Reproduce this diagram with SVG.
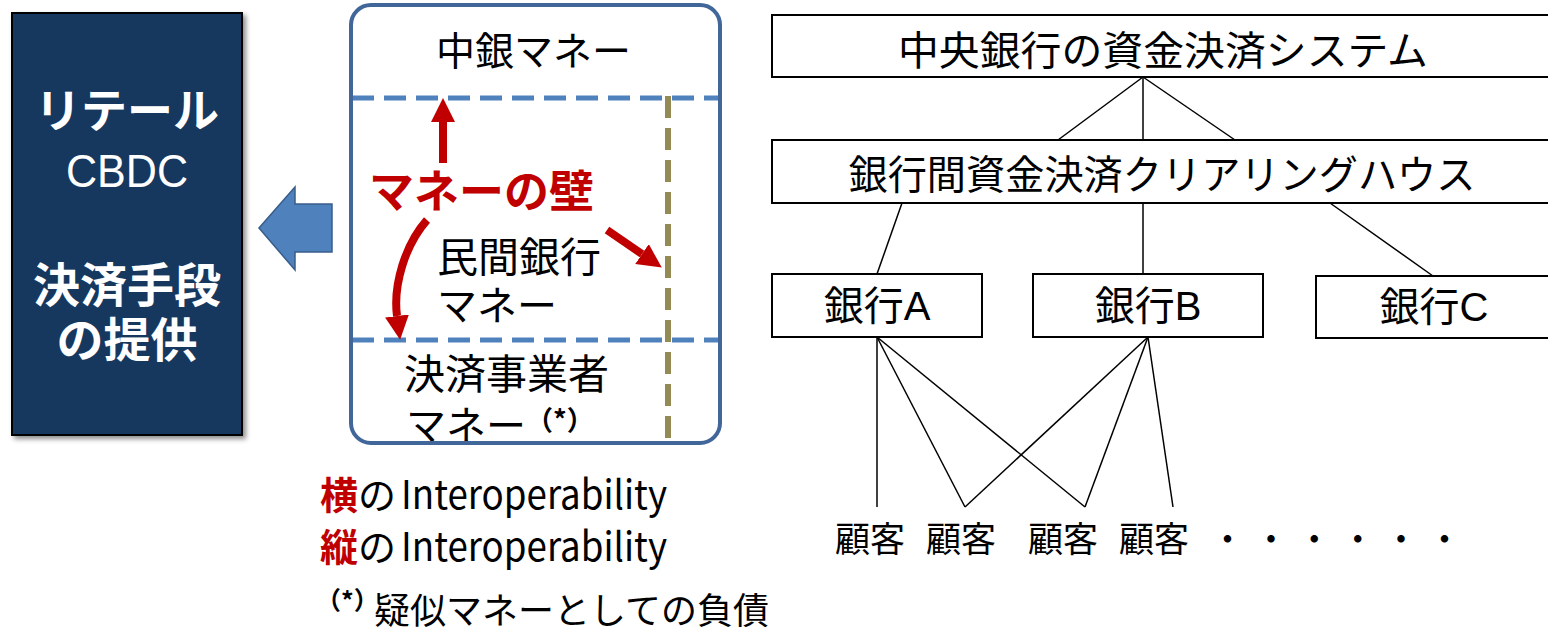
<svg xmlns="http://www.w3.org/2000/svg" width="1548" height="631" viewBox="0 0 1548 631">
<style>
.jp{font-family:"Noto Sans CJK JP","Noto Sans",sans-serif;}
.lat{font-family:"Liberation Sans","Noto Sans CJK JP",sans-serif;}
.box{fill:#fff;stroke:#000;stroke-width:2;}
.conn{stroke:#000;stroke-width:1.5;fill:none;}
.red{stroke:#C00000;stroke-width:8;fill:none;}
.bdash{stroke:#4F81BD;stroke-width:5;stroke-dasharray:22 10;fill:none;}
.odash{stroke:#948A54;stroke-width:6;stroke-dasharray:22 10;fill:none;}
.w{fill:#fff;font-weight:bold;}
</style>
<defs>
<filter id="sh" x="-10%" y="-10%" width="130%" height="130%">
<feDropShadow dx="3" dy="3" stdDeviation="2.5" flood-color="#000" flood-opacity="0.45"/>
</filter>
<marker id="rh" viewBox="0 0 10 10" refX="0" refY="5" markerWidth="24" markerHeight="24" markerUnits="userSpaceOnUse" orient="auto">
<path d="M0,0 L10,5 L0,10 z" fill="#C00000"/>
</marker>
</defs>

<g id="retail-cbdc">
<rect x="12" y="13" width="230" height="422" fill="#17375E" stroke="#000" stroke-width="2" filter="url(#sh)"/>
<text class="jp w" x="127" y="127" font-size="46" text-anchor="middle">リテール</text>
<text class="lat" x="127" y="187" font-size="47" fill="#fff" text-anchor="middle" textLength="122" lengthAdjust="spacingAndGlyphs">CBDC</text>
<text class="jp w" x="127" y="302" font-size="47" text-anchor="middle">決済手段</text>
<text class="jp w" x="127" y="357" font-size="47" text-anchor="middle">の提供</text>
</g>

<g id="blue-arrow">
<polygon points="259,228 295,187 295,204 332,204 332,252 295,252 295,270" fill="#4F81BD" stroke="#385D8A" stroke-width="1.5"/>
</g>

<g id="money-box">
<rect x="351" y="5" width="369" height="438" rx="20" fill="#fff"/>
<text class="jp" x="436" y="65" font-size="39">中銀マネー</text>
<text class="jp" x="437" y="272" font-size="41">民間銀行</text>
<text class="jp" x="437" y="320" font-size="40">マネー</text>
<text class="jp" x="404" y="389" font-size="41">決済事業者</text>
<text class="jp" x="406" y="440" font-size="40">マネー<tspan font-size="27" font-weight="bold" dy="-10">（*）</tspan></text>
<line class="bdash" x1="352" y1="98" x2="720" y2="98"/>
<line class="bdash" x1="352" y1="340" x2="720" y2="340"/>
<line class="odash" x1="668" y1="96" x2="668" y2="441"/>
<text class="jp" x="369" y="208" font-size="45" font-weight="bold" fill="#C00000">マネーの壁</text>
<path class="red" d="M443 163 L443 122" marker-end="url(#rh)"/>
<path class="red" d="M427 220 C405 245 393 285 397 316" marker-end="url(#rh)"/>
<path class="red" d="M607 230 L642 254" marker-end="url(#rh)"/>
<rect x="351" y="5" width="369" height="438" rx="20" fill="none" stroke="#41669A" stroke-width="4"/>
</g>

<g id="notes">
<text class="jp" x="320" y="509" font-size="38"><tspan fill="#C00000" font-weight="bold">横</tspan>の</text>
<text class="jp" x="401" y="509" font-size="40" textLength="266" lengthAdjust="spacingAndGlyphs">Interoperability</text>
<text class="jp" x="320" y="561" font-size="38"><tspan fill="#C00000" font-weight="bold">縦</tspan>の</text>
<text class="jp" x="401" y="561" font-size="40" textLength="266" lengthAdjust="spacingAndGlyphs">Interoperability</text>
<text class="jp" x="316" y="610" font-size="25" font-weight="bold">（*）</text>
<text class="jp" x="374" y="624" font-size="36">疑似マネーとしての負債</text>
</g>

<g id="connectors">
<line class="conn" x1="1143" y1="77" x2="1058" y2="140"/>
<line class="conn" x1="1143" y1="77" x2="1143" y2="140"/>
<line class="conn" x1="1143" y1="77" x2="1235" y2="140"/>
<line class="conn" x1="902" y1="203" x2="877" y2="274"/>
<line class="conn" x1="1143" y1="203" x2="1143" y2="274"/>
<line class="conn" x1="1330" y1="203" x2="1433" y2="276"/>
<line class="conn" x1="877" y1="337" x2="877" y2="507"/>
<line class="conn" x1="877" y1="337" x2="965" y2="507"/>
<line class="conn" x1="877" y1="337" x2="1085" y2="507"/>
<line class="conn" x1="1148" y1="337" x2="965" y2="507"/>
<line class="conn" x1="1148" y1="337" x2="1085" y2="507"/>
<line class="conn" x1="1148" y1="337" x2="1173" y2="507"/>
</g>

<g id="central-bank">
<rect class="box" x="772" y="15" width="790" height="62"/>
<text class="jp" x="1163" y="65" font-size="40" text-anchor="middle" textLength="530" lengthAdjust="spacingAndGlyphs">中央銀行の資金決済システム</text>
</g>
<g id="clearing-house">
<rect class="box" x="772" y="140" width="790" height="63"/>
<text class="jp" x="1162" y="189" font-size="40" text-anchor="middle" textLength="627" lengthAdjust="spacingAndGlyphs">銀行間資金決済クリアリングハウス</text>
</g>
<g id="bank-a">
<rect class="box" x="772" y="274" width="210" height="63"/>
<text class="lat" x="877" y="320" font-size="40" text-anchor="middle">銀行A</text>
</g>
<g id="bank-b">
<rect class="box" x="1033" y="274" width="230" height="63"/>
<text class="lat" x="1148" y="320" font-size="40" text-anchor="middle">銀行B</text>
</g>
<g id="bank-c">
<rect class="box" x="1316" y="276" width="246" height="62"/>
<text class="lat" x="1434" y="321" font-size="40" text-anchor="middle">銀行C</text>
</g>
<g id="customers">
<text class="jp" x="835" y="552" font-size="35">顧客</text>
<text class="jp" x="926" y="552" font-size="35">顧客</text>
<text class="jp" x="1028" y="552" font-size="35">顧客</text>
<text class="jp" x="1119" y="552" font-size="35">顧客</text>
<text class="jp" x="1210" y="552" font-size="35" letter-spacing="8.4">・・・・・・</text>
</g>
</svg>
